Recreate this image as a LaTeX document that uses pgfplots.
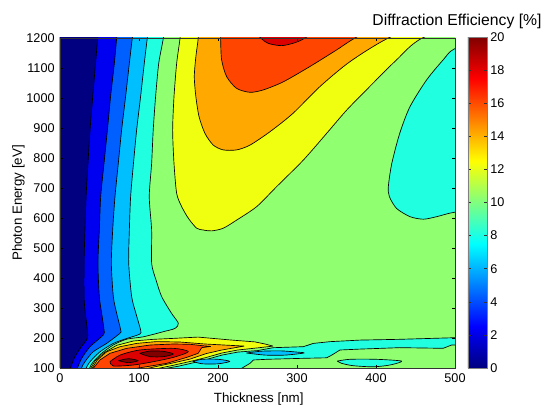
\documentclass[border=0pt]{standalone}
\usepackage{fontspec}
\setmainfont{Liberation Sans}
\usepackage{pgfplots}
\pgfplotsset{compat=1.18}
\definecolor{b0}{HTML}{000080}
\definecolor{b1}{HTML}{0000F0}
\definecolor{b2}{HTML}{0060FF}
\definecolor{b3}{HTML}{00BFFF}
\definecolor{b4}{HTML}{20FFDF}
\definecolor{b5}{HTML}{90FF70}
\definecolor{b6}{HTML}{F0FF10}
\definecolor{b7}{HTML}{FFA800}
\definecolor{b8}{HTML}{FF4500}
\definecolor{b9}{HTML}{DC0000}
\definecolor{b10}{HTML}{800000}
\pgfplotsset{
  band/.style={fill=#1,draw=black,line width=0.5pt,line join=round,no markers,forget plot},
  sband/.style={band=#1,smooth,tension=0.45},
  colormap={matjet}{rgb255(0cm)=(0,0,128) rgb255(1cm)=(0,0,255) rgb255(3cm)=(0,255,255) rgb255(5cm)=(255,255,0) rgb255(7cm)=(255,0,0) rgb255(8cm)=(128,0,0)}
}
\begin{document}
\begin{tikzpicture}[x=0.75pt,y=0.75pt]
\path[use as bounding box] (-60,-39) rectangle (487,368);
\begin{axis}[
  at={(0,0)},anchor=south west,name=ax,
  scale only axis,width=296.25pt,height=247.5pt,
  xmin=0,xmax=500,ymin=100,ymax=1200,
  xtick={0,100,...,500},ytick={100,200,...,1200},
  tick align=inside,tick pos=both,
  xticklabel pos=bottom,yticklabel pos=left,
  major tick length=2.6pt,
  axis on top,
  axis line style={line width=0.5pt,black!80},
  tick style={black,line width=0.4pt},
  tick label style={font=\fontsize{9.5}{11}\selectfont,/pgf/number format/assume math mode=true},
  xticklabel style={yshift=-1pt},
  yticklabel style={xshift=-0.5pt},
  /pgf/number format/1000 sep={},
  xlabel={Thickness [nm]},ylabel={Photon Energy [eV]},
  label style={font=\fontsize{10.2}{12}\selectfont},
  every axis x label/.style={at={(axis description cs:0.503,-0.095)},anchor=center},
  every axis y label/.style={at={(axis description cs:-0.1055,0.5)},anchor=center,rotate=90},
  colormap name=matjet,
  point meta min=0,point meta max=20,
  colorbar,
  colorbar style={
    at={(1.0329,0)},anchor=south west,
    width=14.25pt,height=248.25pt,
    ytick={0,2,...,20},
    tick align=inside,
    ytick pos=both,yticklabel pos=right,
    major tick length=2.2pt,
    tick style={black!80,line width=0.4pt},
    yticklabel style={font=\fontsize{9.5}{11}\selectfont,/pgf/number format/assume math mode=true,xshift=-1pt},
    axis line style={line width=0.4pt,black!50},
  },
]
% 10-12 band as background
\addplot[band=b5] coordinates {(-10,90)(510,90)(510,1210)(-10,1210)(-10,90)};
% left side levels
\addplot[sband=b4] coordinates {(-30,1300)(135,1300)(130.8,1200)(125,1116)(121,1004)(118,893)(116,782)(113,671)(116,560)(116,449)(121.6,393)(128.7,338)(141,283)(149.8,249)(145.6,232)(130.8,221)(105.5,204)(84.4,196)(67.5,177)(52.8,149)(42.2,121)(37.2,99)(33,60)(-30,60)(-30,1300)};
\addplot[sband=b3] coordinates {(-30,1300)(115,1300)(110.5,1200)(106.7,1116)(102,1004)(97,893)(93,782)(89.4,671)(87.8,560)(87,449)(90.7,338)(96,283)(102,227)(101,213)(84,198)(67.5,182)(50.6,154)(38,121)(33,99)(29,60)(-30,60)(-30,1300)};
\addplot[sband=b2] coordinates {(-30,1300)(96,1300)(91.5,1200)(87.8,1116)(83,1004)(78,893)(73.8,782)(69.6,671)(66.7,560)(65,449)(67.5,338)(71.7,283)(76.8,227)(76,216)(59,182)(42,154)(31.6,121)(27,99)(23,60)(-30,60)(-30,1300)};
\addplot[sband=b1] coordinates {(-30,1300)(75,1300)(71.7,1200)(68.8,1116)(64,1004)(60,893)(55.7,782)(51.5,671)(49.8,560)(48,449)(49.8,338)(52.7,283)(55.7,227)(54.8,210)(38,171)(27.4,132)(22,99)(18,60)(-30,60)(-30,1300)};
\addplot[sband=b0] coordinates {(-30,1300)(51,1300)(47.7,1200)(45,1116)(41.4,1004)(38,893)(35.4,782)(33,671)(31.6,560)(30.4,449)(30.4,338)(32,283)(35,204)(27,171)(19,138)(13,99)(9,60)(-30,60)(-30,1300)};
% right side low region
\addplot[sband=b4] coordinates {(540,1200)(499,1163.4)(485,1127)(464,1060)(443,971)(430,882)(420,782)(415.6,704)(417,671)(426,632)(443,604.5)(460,596)(477,604.5)(499,619)(540,630)(560,900)(540,1200)};
\addplot[sband=b4] coordinates {(351,123)(367,129)(400,129)(432.5,123)(417.7,110)(396.6,104)(371,107.7)(356.5,115.6)(351,123)};
% low region beneath the ridge
\addplot[band=b4] coordinates {(135,99)(150,106)(165,115)(185,128)(205,143)(225,153)(250,158)(270,167.7)(308,171)(320.7,182)(341.8,187.8)(379.7,193)(430,195.6)(500,201)(510,201)(510,176.7)(495.8,176.7)(485,165.6)(430,167.8)(379.7,163)(354.4,160)(344,143)(337.6,134)(303.8,132)(261.6,129)(244.7,126.7)(240.5,115.6)(230,99)(230,90)(135,90)(135,99)};
\addplot[sband=b3] coordinates {(236,150)(255,156)(280,157)(300,153)(309,150)(285,143)(260,143)(236,150)};
\addplot[sband=b3] coordinates {(168,122)(180,129)(200,129)(215,122)(200,114)(180,114)(168,122)};
% upper hill
\addplot[sband=b6] coordinates {(156,1300)(152,1200)(147.7,1116)(144.3,1004)(142.6,893)(144.3,782)(147.7,682)(154,638)(162.5,599)(173,566)(181.4,560)(192,557)(206.7,566)(223.6,593)(249,638)(274,704)(308,793)(337.5,882)(363,960)(392,1038)(426,1127)(458.6,1200)(550,1300)(156,1300)};
\addplot[sband=b7] coordinates {(178,1300)(175,1200)(172,1138)(170,1071)(172,1004)(176,938)(183.5,882)(194,843)(206.7,827)(223.6,827)(240.5,843)(266,888)(295,949)(329,1038)(367,1121)(415.6,1200)(500,1300)(178,1300)};
\addplot[sband=b8] coordinates {(203,1300)(203.3,1200)(204.6,1127)(211,1071)(223.6,1032)(240.5,1019)(257.4,1027)(282.7,1054)(316.4,1105)(350,1160)(373.4,1200)(440,1300)(203,1300)};
\addplot[sband=b9] coordinates {(240,1240)(254,1200)(263.7,1182)(280.6,1174.5)(297.5,1184.5)(310,1200)(330,1240)(240,1240)};
% lower ridge
\addplot[band=b6] coordinates {(38.8,99)(44.3,123)(55.7,151)(71.8,175.5)(92.9,190)(118,195.5)(145.6,199)(174.7,203)(217.7,193)(246.8,187)(259.5,180)(269.6,173)(250,167)(225,160)(205,150)(185,135)(165,122)(145,110)(125,99)(125,90)(38.8,90)(38.8,99)};
\addplot[band=b7] coordinates {(40.5,99)(47.3,127)(59,154)(76,171)(97,182)(122,188)(152,186.6)(183.6,180)(233,173)(205,160)(185,148)(165,130)(140,115)(120,104)(112,99)(112,90)(40.5,90)(40.5,99)};
\addplot[band=b8] coordinates {(42,99)(50.7,127)(63.3,149)(84.4,165.5)(114,176.6)(143.5,180)(164.6,179)(181.5,174)(190.8,172)(179.4,167.8)(175,149)(160.4,135.5)(135,115.5)(109.7,104.4)(97,99)(97,90)(42,90)(42,99)};
\addplot[sband=b9] coordinates {(63.3,121)(76,143)(101,160)(143.5,165.5)(162.5,154.4)(143.5,135.5)(118,121)(92.9,110)(67.5,106.6)(63.3,121)};
\addplot[sband=b10] coordinates {(74,124.4)(86.5,131)(99,124.4)(86.5,117.8)(74,124.4)};
\addplot[sband=b10] coordinates {(101,149)(114,156.6)(130.8,155.5)(143.5,146.7)(130.8,137.8)(114,137.8)(101,149)};
\end{axis}
\node[font=\fontsize{11.8}{14}\selectfont,anchor=center] at (397,347) {Diffraction Efficiency [\%]};
\end{tikzpicture}
\end{document}
